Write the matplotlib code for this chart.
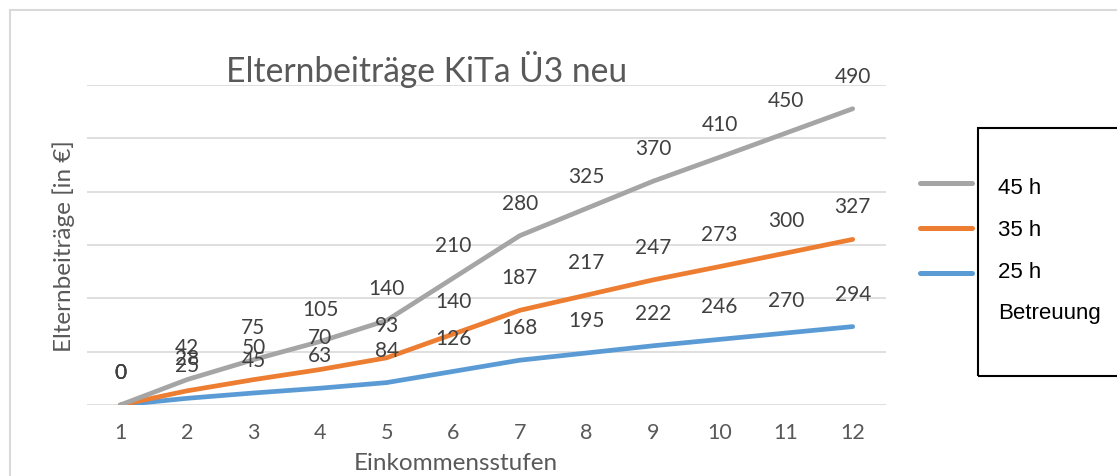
import matplotlib.pyplot as plt
from matplotlib.patches import Rectangle
from matplotlib.lines import Line2D

plt.rcParams['font.family'] = ['Lato', 'DejaVu Sans']

stufen = list(range(1, 13))
h45 = [0, 42, 75, 105, 140, 210, 280, 325, 370, 410, 450, 490]
h35 = [0, 28, 50, 70, 93, 140, 187, 217, 247, 273, 300, 327]
h25 = [0, 25, 45, 63, 84, 126, 168, 195, 222, 246, 270, 294]

serien = ['45 h', '35 h', '25 h']
farben = {'45 h': '#a5a5a5', '35 h': '#ed7d31', '25 h': '#5b9bd5'}

# gestapelte Linien (wie im Excel-Diagramm)
s25 = h25
s35 = [a + b for a, b in zip(h25, h35)]
s45 = [a + b for a, b in zip(s35, h45)]

W, H = 1117, 476
fig = plt.figure(figsize=(W / 100, H / 100), dpi=100)
ax = fig.add_axes([87 / W, 1 - 405 / H, (886 - 87) / W, (405 - 85) / H])

for werte, summe, name in [(h25, s25, '25 h'), (h35, s35, '35 h'), (h45, s45, '45 h')]:
    ax.plot(stufen, summe, color=farben[name], lw=3.4, solid_capstyle='round',
            solid_joinstyle='round', zorder=3)
    for x, y, v in zip(stufen, summe, werte):
        ax.annotate(str(v), (x, y), xytext=(0, 23), textcoords='offset points',
                    ha='center', va='center', fontsize=15, color='#404040', zorder=4)

ax.set_xlim(0.5, 12.5)
ax.set_ylim(0, 1200)
ax.set_yticks(range(0, 1201, 200))
ax.set_yticklabels([])
ax.set_xticks(stufen)
ax.set_xticklabels([str(s) for s in stufen], fontsize=15.5, color='#595959')
ax.tick_params(length=0, pad=13)
ax.grid(axis='y', color='#d9d9d9', lw=1.2)
ax.set_axisbelow(True)
for sp in ax.spines.values():
    sp.set_visible(False)

fig.text(427 / W, 1 - 70 / H, 'Elternbeiträge KiTa Ü3 neu', ha='center', va='center',
         fontsize=24.2, color='#595959')
fig.text(64 / W, 1 - 246 / H, 'Elternbeiträge [in €]', rotation=90, ha='center',
         va='center', fontsize=17.5, color='#595959')
fig.text(456 / W, 1 - 464 / H, 'Einkommensstufen', ha='center', va='center',
         fontsize=17.5, color='#595959')

# äusserer Diagrammrahmen
fig.add_artist(Rectangle((10 / W, -0.1), 1.2, 1 - 10 / H + 0.1, transform=fig.transFigure,
                         fill=False, ec='#d9d9d9', lw=1.5))

# Legende
fig.add_artist(Rectangle((978 / W, 1 - 376 / H), 0.3, (376 - 128) / H,
                         transform=fig.transFigure, fill=False, ec='black', lw=1.5))
leg_y = [183, 228, 273]
for name, y in zip(serien, leg_y):
    fig.add_artist(Line2D([920 / W, 972 / W], [1 - y / H] * 2, transform=fig.transFigure,
                          color=farben[name], lw=3.6, solid_capstyle='round'))
for text, y in zip(serien + ['Betreuung'], [189, 230, 272, 313]):
    fig.text(998 / W, 1 - y / H, text, ha='left', va='center', fontsize=16,
             color='black', family='Liberation Sans')

fig.savefig('out.png', dpi=100)
